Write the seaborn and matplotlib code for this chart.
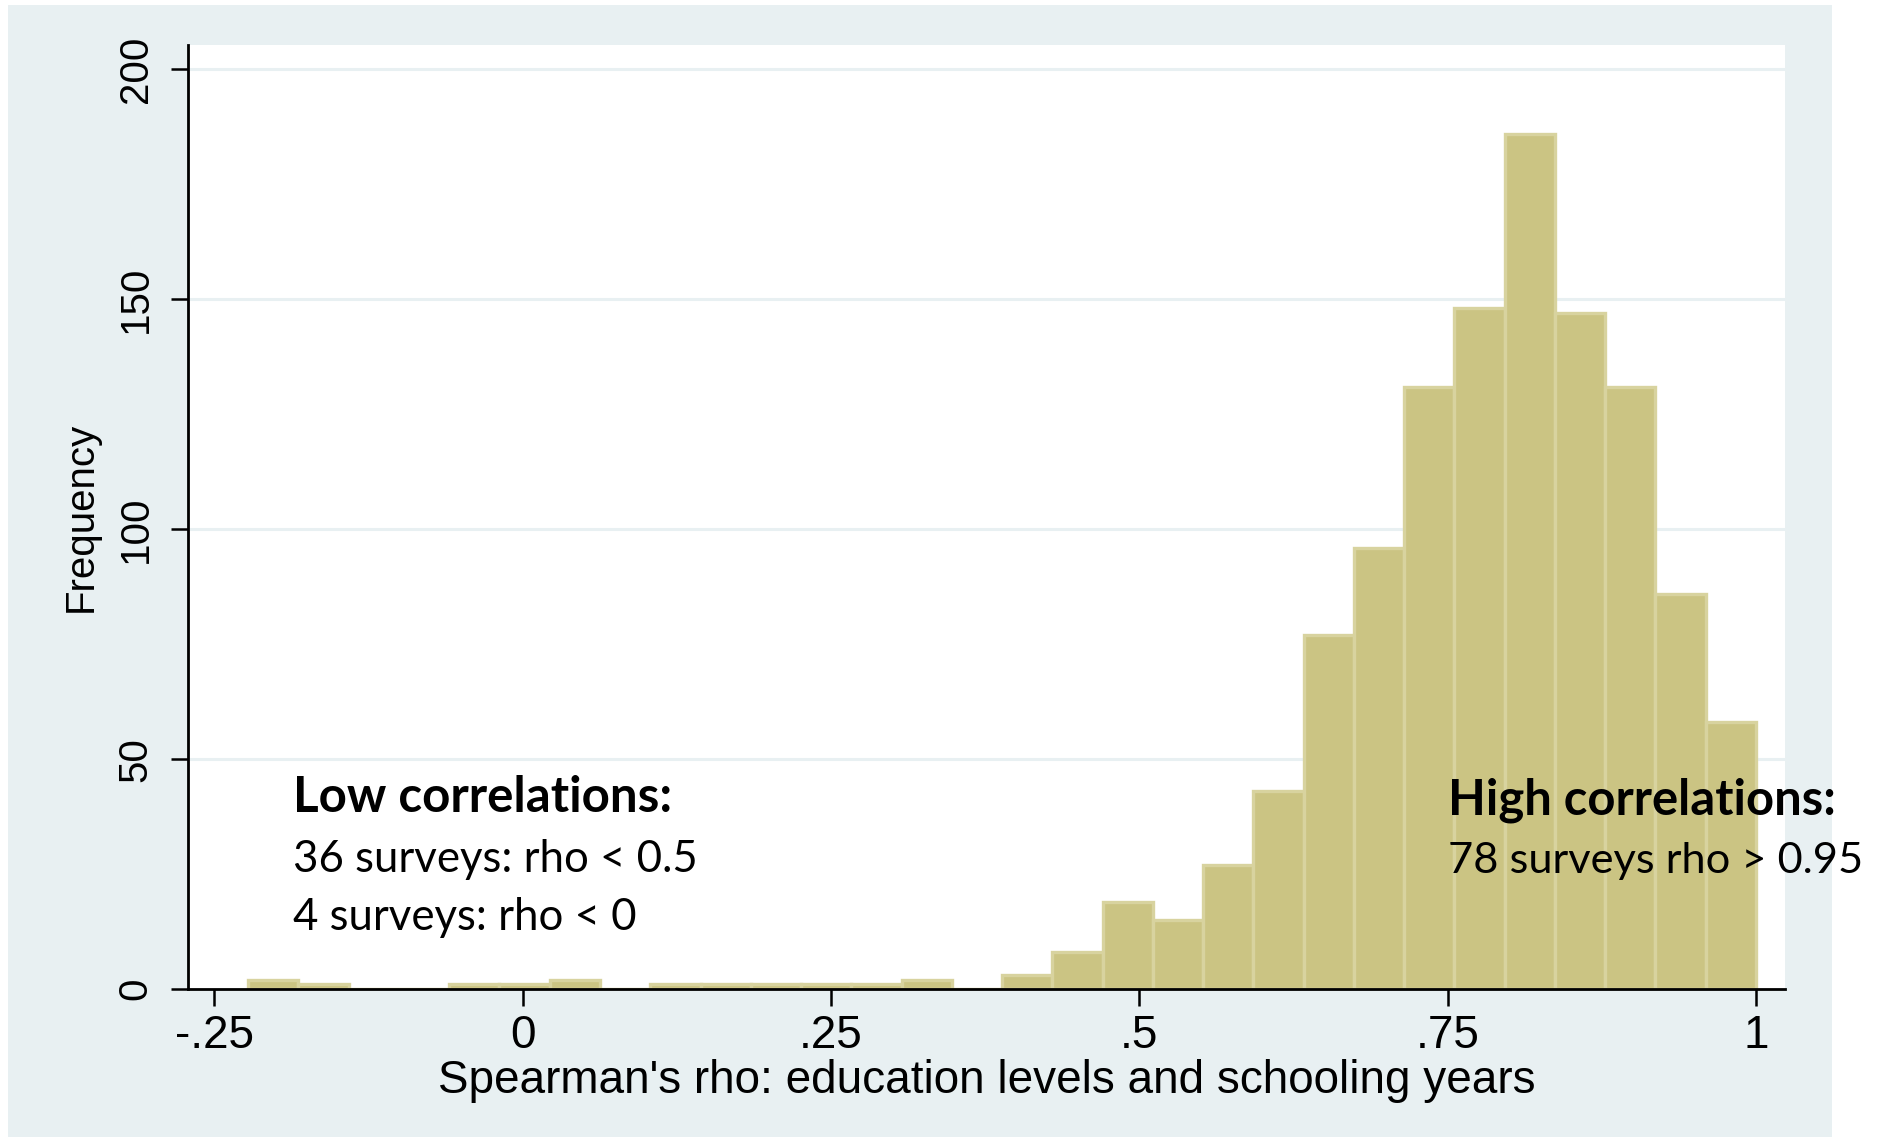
import numpy as np
import pandas as pd
import seaborn as sns
import matplotlib.pyplot as plt
from matplotlib.patches import Rectangle

# histogram of Spearman's rho across surveys (30 bins, min to max)
rho_min = -0.2225
rho_max = 1.0
counts = [2, 1, 0, 0, 1, 1, 2, 0, 1, 1, 1, 1, 1, 2, 0, 3,
          8, 19, 15, 27, 43, 77, 96, 131, 148, 186, 147, 131, 86, 58]
x_ticks = [-0.25, 0, 0.25, 0.5, 0.75, 1]
x_ticklabels = ['-.25', '0', '.25', '.5', '.75', '1']
y_ticks = [0, 50, 100, 150, 200]

edges = np.linspace(rho_min, rho_max, len(counts) + 1)
df = pd.DataFrame({'rho': (edges[:-1] + edges[1:]) / 2, 'n': counts})

bg = '#e8f0f2'
bar_fill = '#cbc483'
bar_edge = '#d8d39f'

sns.set_theme(style='white')
plt.rcParams['font.family'] = ['Liberation Sans', 'DejaVu Sans']

fig = plt.figure(figsize=(18.79, 11.37), dpi=100, facecolor='white')
fig.patches.append(Rectangle((8 / 1879, 0), (1832 - 8) / 1879, 1 - 5 / 1137,
                             transform=fig.transFigure, facecolor=bg,
                             edgecolor='none', zorder=-10))
ax = fig.add_axes([188 / 1879, 1 - 989 / 1137, (1785 - 188) / 1879, (989 - 45) / 1137])
ax.set_facecolor('white')

for y in y_ticks[1:]:
    ax.axhline(y, color=bg, lw=2.2, zorder=0)

sns.histplot(data=df, x='rho', weights='n', bins=len(counts), binrange=(rho_min, rho_max),
             ax=ax, stat='count', color=bar_fill, alpha=1, edgecolor=bar_edge,
             linewidth=2.4, zorder=2)

ax.set_xlim(-0.2713, 1.0235)
ax.set_ylim(0, 205.3)
ax.set_xticks(x_ticks)
ax.set_xticklabels(x_ticklabels)
ax.set_yticks(y_ticks)
ax.set_yticklabels([str(v) for v in y_ticks], rotation=90, va='center')

for side in ['top', 'right']:
    ax.spines[side].set_visible(False)
for side in ['left', 'bottom']:
    ax.spines[side].set_color('black')
    ax.spines[side].set_linewidth(2)

ax.tick_params(axis='both', which='major', direction='out', length=12, width=1.8,
               color='black', labelcolor='black')
ax.tick_params(axis='x', bottom=True, pad=6, labelsize=33)
ax.tick_params(axis='y', left=True, pad=12, labelsize=29)

ax.set_xlabel("Spearman's rho: education levels and schooling years", fontsize=33,
              color='black', labelpad=1)
ax.set_ylabel('Frequency', fontsize=29, color='black', labelpad=12)

note_font = ['Lato', 'DejaVu Sans']
ax.text(-0.186, 41.7, 'Low correlations:', fontsize=35.5, fontweight='bold',
        family=note_font, va='center', ha='left', color='black', zorder=5)
ax.text(-0.186, 28.2, '36 surveys: rho < 0.5', fontsize=31.5, family=note_font,
        va='center', ha='left', color='black', zorder=5)
ax.text(-0.186, 15.6, '4 surveys: rho < 0', fontsize=31.5, family=note_font,
        va='center', ha='left', color='black', zorder=5)
ax.text(0.75, 41.0, 'High correlations:', fontsize=35.3, fontweight='bold',
        family=note_font, va='center', ha='left', color='black', zorder=5)
ax.text(0.75, 27.9, '78 surveys rho > 0.95', fontsize=31.2, family=note_font,
        va='center', ha='left', color='black', zorder=5)

fig.savefig('out.png', dpi=100, facecolor='white')
